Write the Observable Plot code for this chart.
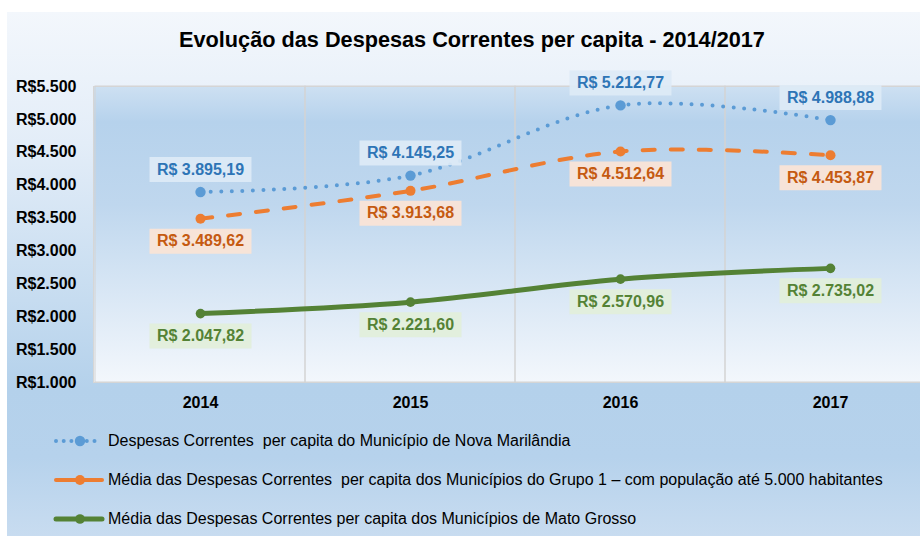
<!DOCTYPE html>
<html>
<head>
<meta charset="utf-8">
<script src="https://cdn.jsdelivr.net/npm/d3@7"></script>
<script src="https://cdn.jsdelivr.net/npm/@observablehq/plot@0.6"></script>
<style>
  html, body { margin: 0; padding: 0; background: #ffffff; width: 920px; height: 536px; overflow: hidden; }
  body { position: relative; font-family: "Liberation Sans", Arial, sans-serif; }
  #panel { position: absolute; left: 7px; top: 12px; width: 913px; height: 524px;
    background: linear-gradient(to bottom, #f3f7fc 0%, #e3edf8 25%, #c6dcf0 55%, #b4d1eb 72%, #b6d2ec 85%, #c8dcf0 100%); }
  #title { position: absolute; left: 0; width: 944px; top: 27px; text-align: center;
    font-weight: bold; font-size: 21.7px; color: #000; line-height: 26px; }
  #chart { position: absolute; left: 0; top: 60px; }
  .leg { position: absolute; left: 0; height: 24px; display: flex; align-items: center; font-size: 16px; color: #000; white-space: pre; }
  .leg svg { display: block; }
</style>
</head>
<body>
<div id="panel"></div>
<div id="title">Evolução das Despesas Correntes per capita - 2014/2017</div>
<div id="chart"></div>
<div id="legend"></div>
<script>
// ---- data ----
const years = ["2014", "2015", "2016", "2017"];
const novaMarilandia = [3895.19, 4145.25, 5212.77, 4988.88];
const grupo1 = [3489.62, 3913.68, 4512.64, 4453.87];
const matoGrosso = [2047.82, 2221.60, 2570.96, 2735.02];
const yTicks = [1000, 1500, 2000, 2500, 3000, 3500, 4000, 4500, 5000, 5500];
const seriesNames = [
  "Despesas Correntes  per capita do Município de Nova Marilândia",
  "Média das Despesas Correntes  per capita dos Municípios do Grupo 1 – com população até 5.000 habitantes",
  "Média das Despesas Correntes per capita dos Municípios de Mato Grosso"
];

// ---- styles ----
const styles = [
  {values: novaMarilandia, line: "#5B9BD5", text: "#2E75B6", bg: "#DDEAF6", dash: "0 10.5", width: 4, r: 5.2, dy: -22.5},
  {values: grupo1, line: "#ED7D31", text: "#C55A11", bg: "#FBE4D6", dash: "12 16", width: 4, r: 5, dy: 22.5},
  {values: matoGrosso, line: "#548235", text: "#548235", bg: "#E2EFDA", dash: null, width: 5, r: 4.8, dy: 22.5}
];

const loc = d3.formatLocale({decimal: ",", thousands: ".", grouping: [3], currency: ["R$", ""]});
const fmtTick = loc.format(",.0f");
const fmtVal = loc.format(",.2f");

const boxSymbol = {draw(ctx) { ctx.rect(-51, -12.5, 102, 25); }};

const marks = [
  () => {
    const defs = d3.create("svg:defs");
    const g = defs.append("linearGradient").attr("id", "plotGrad").attr("x1", 0).attr("y1", 0).attr("x2", 0).attr("y2", 1);
    g.append("stop").attr("offset", "0%").attr("stop-color", "#cde0f2");
    g.append("stop").attr("offset", "12%").attr("stop-color", "#b6d2ec");
    g.append("stop").attr("offset", "40%").attr("stop-color", "#bfd7ee");
    g.append("stop").attr("offset", "100%").attr("stop-color", "#f3f7fc");
    return defs.node();
  },
  Plot.frame({fill: "url(#plotGrad)", stroke: "#d6d6d6"}),
  Plot.cell(years, {x: d => d, fill: "none", stroke: "#d3d3d3", strokeWidth: 1})
];

styles.forEach(s => {
  const rows = years.map((y, i) => ({year: y, value: s.values[i]}));
  marks.push(Plot.line(rows, {x: "year", y: "value", curve: "cardinal", stroke: s.line,
    strokeWidth: s.width, strokeDasharray: s.dash || undefined, strokeLinecap: "round"}));
  marks.push(Plot.dot(rows, {x: "year", y: "value", r: s.r, fill: s.line, stroke: "none"}));
});
styles.forEach(s => {
  const rows = years.map((y, i) => ({year: y, value: s.values[i]}));
  marks.push(Plot.dot(rows, {x: "year", y: "value", symbol: boxSymbol, r: 10, fill: s.bg, fillOpacity: 0.92, stroke: "none", dy: s.dy}));
  marks.push(Plot.text(rows, {x: "year", y: "value", text: d => "R$ " + fmtVal(d.value), dy: s.dy,
    fill: s.text, fontSize: 16, fontWeight: "bold"}));
});

const chart = Plot.plot({
  width: 920,
  height: 360,
  marginLeft: 93,
  marginTop: 26,
  marginBottom: 38,
  marginRight: 0,
  style: {fontFamily: "'Liberation Sans', Arial, sans-serif", background: "transparent", overflow: "visible"},
  x: {type: "band", domain: years, range: [93, 936], padding: 0, label: null},
  y: {domain: [1000, 5500], label: null},
  axis: null,
  marks: [
    ...marks,
    Plot.axisY(yTicks, {tickSize: 0, tickPadding: 17, tickFormat: d => "R$" + fmtTick(d), fontSize: 16, fontWeight: "bold", fill: "#000"}),
    Plot.axisX(years, {tickSize: 0, tickPadding: 14, fontSize: 16, fontWeight: "bold", fill: "#000"})
  ]
});
document.getElementById("chart").appendChild(chart);

// ---- legend ----
const legend = document.getElementById("legend");
const legYs = [441, 480, 519];
styles.forEach((s, i) => {
  const row = document.createElement("div");
  row.className = "leg";
  row.style.top = (legYs[i] - 12) + "px";
  const svg = d3.create("svg").attr("width", 108).attr("height", 24);
  svg.append("line").attr("x1", 56).attr("x2", 102).attr("y1", 12).attr("y2", 12)
    .attr("stroke", s.line).attr("stroke-width", s.width).attr("stroke-linecap", "round")
    .attr("stroke-dasharray", i === 0 ? "0 7.7" : null);
  svg.append("circle").attr("cx", 80).attr("cy", 12).attr("r", s.r).attr("fill", s.line);
  row.appendChild(svg.node());
  const span = document.createElement("span");
  span.textContent = seriesNames[i];
  row.appendChild(span);
  legend.appendChild(row);
});
</script>
</body>
</html>
